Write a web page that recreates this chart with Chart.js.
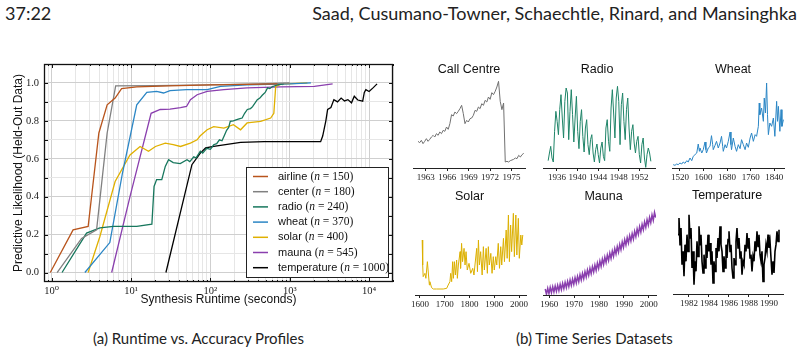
<!DOCTYPE html>
<html>
<head>
<meta charset="utf-8">
<script src="https://cdn.jsdelivr.net/npm/chart.js@4.4.1/dist/chart.umd.min.js"></script>
<style>
  body { margin: 0; background: #fff; width: 800px; height: 356px; overflow: hidden; position: relative; font-family: "Lato", sans-serif; color: #222; }
  canvas { position: absolute; }
  .hdr { position: absolute; top: 1px; font-size: 18px; line-height: 24px; white-space: nowrap; }
  .cap { position: absolute; top: 328px; font-size: 15px; line-height: 20px; white-space: nowrap; }
</style>
</head>
<body>
<div class="hdr" style="left:5px">37:22</div>
<div class="hdr" style="right:3px">Saad, Cusumano-Towner, Schaechtle, Rinard, and Mansinghka</div>
<div class="cap" style="left:93px">(a) Runtime vs. Accuracy Profiles</div>
<div class="cap" style="left:516px">(b) Time Series Datasets</div>

<canvas id="runtime" width="400" height="262" style="left:0;top:50px"></canvas>
<canvas id="callPanel"></canvas>
<canvas id="radioPanel"></canvas>
<canvas id="wheatPanel"></canvas>
<canvas id="solarPanel"></canvas>
<canvas id="maunaPanel"></canvas>
<canvas id="tempPanel"></canvas>

<script>
// ---- (a) runtime vs accuracy ----
const seriesNames = ["airline", "center", "radio", "wheat", "solar", "mauna", "temperature"];
const seriesSizes = [150, 180, 240, 370, 400, 545, 1000];
const seriesColors = ["#b8541c", "#808080", "#17775d", "#2b86c5", "#e0b000", "#8a3fae", "#000000"];

const airlineRuntime = [0.96, 1.86, 2.88, 3.93, 5.0, 6.3, 7.6, 11.8, 30, 100, 300, 700];
const airlineScore   = [0, 0.225, 0.243, 0.736, 0.885, 0.92, 0.97, 0.979, 0.985, 0.99, 0.993, 0.995];

const centerRuntime = [1.17, 2.38, 3.68, 5.0, 6.4, 20, 100, 400, 1000];
const centerScore   = [0, 0.18, 0.225, 0.736, 0.985, 0.986, 0.99, 0.995, 1.0];

const radioRuntime = [1.35, 2.75, 4.05, 6.0, 11.8, 18.3, 19.5, 21, 24.4, 27, 29.7, 34, 41.7, 50.7, 55, 61.7, 66, 74.6, 80, 90, 100, 110, 120, 130, 140, 148, 160, 170, 178, 195, 210, 230, 251, 270, 292, 320, 340, 390, 420, 450, 490, 525, 560, 600, 700, 840];
const radioScore   = [0, 0.208, 0.235, 0.243, 0.243, 0.255, 0.454, 0.49, 0.49, 0.56, 0.595, 0.58, 0.575, 0.595, 0.585, 0.61, 0.605, 0.64, 0.63, 0.655, 0.65, 0.674, 0.68, 0.70, 0.695, 0.718, 0.75, 0.765, 0.797, 0.80, 0.805, 0.81, 0.815, 0.84, 0.86, 0.865, 0.875, 0.912, 0.92, 0.935, 0.95, 0.974, 0.97, 0.98, 0.99, 0.995];

const wheatRuntime = [2.62, 5.4, 7.8, 11.8, 15.8, 21, 25.7, 31, 50, 91, 134, 290, 1000, 1850];
const wheatScore   = [0, 0.158, 0.525, 0.885, 0.95, 0.956, 0.947, 0.96, 0.965, 0.965, 0.982, 0.99, 0.995, 1.0];

const solarRuntime = [2.88, 4.05, 6.3, 9.7, 13, 16.6, 20.3, 27, 34, 42, 56, 68, 74, 91, 110, 148, 195, 240, 290, 430, 575, 630, 665, 775, 1670];
const solarScore   = [0, 0.19, 0.48, 0.62, 0.665, 0.64, 0.665, 0.683, 0.675, 0.665, 0.683, 0.70, 0.72, 0.753, 0.77, 0.762, 0.78, 0.753, 0.789, 0.797, 0.815, 0.84, 0.982, 0.994, 1.0];

const maunaRuntime = [5.7, 9.7, 17.9, 23.3, 31, 42, 50, 56, 68, 91, 148, 290, 775, 2040, 3470];
const maunaScore   = [0, 0.40, 0.84, 0.86, 0.862, 0.87, 0.876, 0.912, 0.938, 0.956, 0.965, 0.974, 0.979, 0.982, 0.995];

const temperatureRuntime = [27.5, 58.5, 74.6, 87, 110, 240, 475, 2450, 2600, 2700, 2850, 3000, 3300, 3600, 4000, 4440, 4900, 5400, 6000, 6500, 7200, 8300, 8700, 9100, 10000, 11200, 12600];
const temperatureScore   = [0, 0.569, 0.63, 0.657, 0.665, 0.687, 0.69, 0.69, 0.72, 0.753, 0.80, 0.86, 0.87, 0.912, 0.90, 0.92, 0.905, 0.912, 0.895, 0.93, 0.91, 0.904, 0.95, 0.965, 0.955, 0.974, 0.995];

const runtimes = [airlineRuntime, centerRuntime, radioRuntime, wheatRuntime, solarRuntime, maunaRuntime, temperatureRuntime];
const scores = [airlineScore, centerScore, radioScore, wheatScore, solarScore, maunaScore, temperatureScore];

const yTickValues = [0, 0.1, 0.2, 0.3, 0.4, 0.5, 0.6, 0.7, 0.8, 0.9, 1.0, 1.1];

// ---- (b) time series panels (heights above the axis) ----
const callValues = [80, 76, 83, 73, 80, 88, 80, 86, 93, 98, 93, 103, 98, 108, 103, 113, 110, 123, 116, 133, 160, 156, 168, 163, 170, 178, 188, 163, 133, 143, 138, 148, 150, 158, 173, 170, 183, 178, 193, 188, 203, 198, 213, 206, 226, 220, 230, 243, 260, 200, 175, 195, 18, 20, 18, 22, 24, 26, 30, 28, 38, 33, 40, 44];

const radioValues = [22, 45, 65, 30, 18, 110, 170, 140, 100, 175, 220, 150, 90, 200, 240, 225, 85, 170, 235, 160, 78, 150, 215, 110, 58, 140, 175, 95, 48, 120, 145, 70, 40, 85, 100, 45, 18, 55, 72, 40, 15, 60, 78, 35, 22, 120, 145, 80, 50, 180, 235, 165, 90, 210, 245, 200, 70, 190, 225, 140, 85, 175, 210, 120, 55, 110, 130, 75, 45, 80, 95, 40, 15, 70, 90, 30, 2, 40, 60, 45, 20];

const wheatYears = [1497, 1503, 1509, 1514, 1520, 1526, 1531, 1537, 1543, 1548, 1554, 1560, 1565, 1571, 1577, 1582, 1586, 1588, 1594, 1599, 1605, 1608, 1610, 1616, 1622, 1627, 1631, 1633, 1639, 1644, 1650, 1656, 1661, 1665, 1667, 1673, 1678, 1684, 1690, 1693, 1695, 1701, 1707, 1712, 1718, 1724, 1729, 1735, 1741, 1746, 1752, 1758, 1763, 1769, 1775, 1780, 1786, 1789, 1791, 1797, 1803, 1806, 1810, 1814, 1817, 1820, 1825, 1831, 1837, 1842, 1848, 1851, 1854, 1859, 1863, 1866, 1871];
const wheatValues = [10, 8, 12, 10, 15, 12, 18, 14, 22, 18, 30, 22, 35, 40, 45, 72, 50, 60, 45, 55, 78, 55, 45, 60, 65, 97, 70, 55, 68, 80, 60, 75, 95, 65, 50, 70, 60, 80, 108, 70, 55, 90, 65, 50, 70, 58, 85, 70, 55, 75, 62, 90, 105, 80, 100, 95, 125, 195, 160, 180, 140, 210, 165, 255, 160, 100, 135, 125, 150, 95, 200, 140, 185, 110, 175, 125, 145];

const solarYears = [1609, 1611, 1613, 1620, 1624, 1630, 1638, 1640, 1647, 1654, 1667, 1681, 1694, 1708, 1714, 1721, 1724, 1728, 1732, 1735, 1739, 1743, 1748, 1751, 1755, 1762, 1764, 1768, 1772, 1778, 1782, 1786, 1791, 1798, 1805, 1813, 1818, 1822, 1829, 1832, 1836, 1840, 1845, 1851, 1856, 1860, 1867, 1872, 1876, 1880, 1886, 1891, 1896, 1900, 1906, 1910, 1916, 1921, 1926, 1930, 1937, 1941, 1948, 1952, 1957, 1961, 1966, 1970, 1977, 1981, 1987, 1991, 1997, 2001, 2007, 2011, 2015];
const solarValues = [165, 90, 55, 65, 50, 100, 30, 40, 22, 18, 18, 18, 18, 20, 30, 40, 65, 40, 100, 50, 100, 60, 105, 50, 90, 130, 80, 155, 100, 140, 90, 130, 75, 95, 65, 80, 60, 90, 140, 70, 165, 90, 130, 60, 145, 75, 140, 65, 145, 90, 125, 65, 115, 75, 115, 90, 155, 80, 145, 90, 170, 100, 195, 110, 240, 100, 210, 130, 245, 115, 240, 120, 230, 110, 180, 150, 180];

const maunaValues = [18, 2, 20, 4, 23, 7, 25, 9, 27, 11, 29, 13, 32, 16, 35, 19, 38, 22, 41, 25, 45, 29, 48, 32, 52, 36, 56, 40, 61, 45, 65, 49, 70, 54, 75, 59, 80, 64, 85, 69, 90, 74, 96, 80, 102, 86, 108, 92, 114, 98, 120, 104, 126, 110, 132, 116, 139, 123, 145, 129, 152, 136, 159, 143, 166, 150, 172, 156, 178, 162, 184, 168, 191, 175, 198, 182, 205, 189, 212, 196, 219, 203, 226, 210, 233, 217, 240, 224, 248, 232];

const tempValues = [178, 228, 148, 198, 88, 128, 53, 148, 98, 178, 128, 238, 168, 198, 78, 128, 28, 98, 68, 158, 113, 203, 148, 178, 98, 63, 118, 78, 148, 108, 178, 128, 153, 88, 128, 33, 98, 68, 138, 108, 168, 128, 203, 148, 128, 68, 113, 78, 148, 108, 163, 188, 128, 148, 78, 48, 108, 88, 158, 198, 138, 168, 108, 128, 58, 98, 88, 148, 128, 183, 138, 168, 108, 118, 68, 113, 98, 158, 128, 188, 143, 178, 118, 98, 128, 38, 88, 108, 148, 128, 178, 138, 158, 108, 58, 98, 63, 128, 148, 188, 158, 193];

const callTicks = [1963, 1966, 1969, 1972, 1975];
const radioTicks = [1936, 1940, 1944, 1948, 1952];
const wheatTicks = [1520, 1600, 1680, 1760, 1840];
const solarTicks = [1600, 1700, 1800, 1900, 2000];
const maunaTicks = [1960, 1970, 1980, 1990, 2000];
const tempTicks = [1982, 1984, 1986, 1988, 1990];

// even spacing in time for the regularly sampled series
function evenYears(values, first, last) {
  return values.map((v, i) => first + i * (last - first) / (values.length - 1));
}

const SERIF = '"Liberation Serif", "DejaVu Serif", serif';
const SANS = '"Liberation Sans", Arial, sans-serif';
const SUP = ["\u2070", "\u00b9", "\u00b2", "\u00b3", "\u2074"];

function isDecade(v) {
  const e = Math.log10(v);
  return Math.abs(e - Math.round(e)) < 1e-9;
}

// frame with inward ticks, like the original axes box
const frame = {
  id: "frame",
  afterDatasetsDraw(chart) {
    const { ctx, chartArea: a, scales } = chart;
    ctx.save();
    ctx.strokeStyle = "#111";
    ctx.lineWidth = 1;
    ctx.beginPath();
    scales.x.ticks.forEach(t => {
      const px = Math.round(scales.x.getPixelForValue(t.value)) + 0.5;
      const len = isDecade(t.value) ? 4 : 2;
      ctx.moveTo(px, a.bottom); ctx.lineTo(px, a.bottom - len);
      ctx.moveTo(px, a.top); ctx.lineTo(px, a.top + len);
    });
    scales.y.ticks.forEach(t => {
      const py = Math.round(scales.y.getPixelForValue(t.value)) + 0.5;
      ctx.moveTo(a.left, py); ctx.lineTo(a.left + 4, py);
      ctx.moveTo(a.right, py); ctx.lineTo(a.right - 4, py);
    });
    ctx.stroke();
    ctx.lineWidth = 1.3;
    ctx.strokeRect(Math.round(a.left) + 0.5, Math.round(a.top) + 0.5, Math.round(a.right - a.left) - 1, Math.round(a.bottom - a.top) - 1);
    ctx.restore();
  }
};

const legendBox = {
  id: "legendBox",
  afterDatasetsDraw(chart) {
    const { ctx, chartArea: a } = chart;
    const w = 142, h = 110;
    const x0 = Math.round(a.right) - 147, y0 = Math.round(a.bottom) - 115;
    ctx.save();
    ctx.fillStyle = "#fff";
    ctx.fillRect(x0, y0, w, h);
    ctx.strokeStyle = "#222";
    ctx.lineWidth = 1;
    ctx.strokeRect(x0 + 0.5, y0 + 0.5, w, h);
    ctx.textBaseline = "middle";
    seriesNames.forEach((name, i) => {
      const y = y0 + 9.5 + i * 15.2;
      ctx.strokeStyle = seriesColors[i];
      ctx.lineWidth = 1.5;
      ctx.beginPath();
      ctx.moveTo(x0 + 7, y); ctx.lineTo(x0 + 22, y);
      ctx.stroke();
      let x = x0 + 32;
      ctx.fillStyle = "#111";
      ctx.font = "11px " + SANS;
      ctx.fillText(name + " ", x, y);
      x += ctx.measureText(name + " ").width;
      ctx.font = "11.5px " + SERIF;
      ctx.fillText("(", x, y);
      x += ctx.measureText("(").width;
      ctx.font = "italic 11.5px " + SERIF;
      ctx.fillText("n", x, y);
      x += ctx.measureText("n").width;
      ctx.font = "11.5px " + SERIF;
      ctx.fillText(" = " + seriesSizes[i] + ")", x, y);
    });
    ctx.restore();
  }
};

new Chart(document.getElementById("runtime"), {
  type: "line",
  data: {
    datasets: seriesNames.map((name, i) => ({
      label: name,
      data: runtimes[i].map((t, j) => ({ x: t, y: scores[i][j] })),
      borderColor: seriesColors[i],
      borderWidth: 1.3,
      pointRadius: 0,
      tension: 0,
      fill: false
    }))
  },
  options: {
    responsive: false,
    animation: false,
    devicePixelRatio: 1,
    layout: { padding: { top: 14, right: 7, left: 0, bottom: 0 } },
    plugins: { legend: { display: false }, tooltip: { enabled: false } },
    scales: {
      x: {
        type: "logarithmic",
        min: 0.8,
        max: 20000,
        afterBuildTicks: s => {
          const t = [];
          for (let e = -1; e <= 4; e++) {
            for (let m = 1; m < 10; m++) {
              const v = m * Math.pow(10, e);
              if (v >= 0.85 && v <= 20000) t.push({ value: v });
            }
          }
          s.ticks = t;
        },
        afterFit: s => { s.height = 30; },
        border: { display: false },
        grid: {
          drawTicks: false,
          color: c => (c.tick && isDecade(c.tick.value)) ? "#cfcfcf" : "#e6e6e6",
          lineWidth: 1
        },
        ticks: {
          autoSkip: false,
          maxRotation: 0,
          padding: 3,
          color: "#222",
          font: { family: SERIF, size: 10.5 },
          callback: v => isDecade(v) ? "10" + SUP[Math.round(Math.log10(v))] : ""
        },
        title: {
          display: true,
          text: "Synthesis Runtime (seconds)",
          color: "#111",
          font: { family: SANS, size: 12 },
          padding: { top: 0, bottom: 5 }
        }
      },
      y: {
        min: -0.05,
        max: 1.1,
        afterBuildTicks: s => { s.ticks = yTickValues.map(v => ({ value: v })); },
        afterFit: s => { s.width = 44; },
        border: { display: false },
        grid: {
          drawTicks: false,
          color: c => (c.tick && Math.round(c.tick.value * 10) % 2 === 0) ? "#cfcfcf" : "#e6e6e6",
          lineWidth: 1
        },
        ticks: {
          padding: 5,
          color: "#222",
          font: { family: SERIF, size: 10.5 },
          callback: v => (Math.round(v * 10) % 2 === 0 && v < 1.05) ? v.toFixed(1) : ""
        },
        title: {
          display: true,
          text: "Predictive Likelihood (Held-Out Data)",
          color: "#111",
          font: { family: SANS, size: 12 },
          padding: { top: 11, bottom: 0 }
        }
      }
    }
  },
  plugins: [frame, legendBox]
});

// ---- (b) small panels ----
const panelTitle = {
  id: "panelTitle",
  afterDraw(chart, args, opts) {
    const { ctx, chartArea: a } = chart;
    ctx.save();
    ctx.font = "12.5px " + SANS;
    ctx.fillStyle = "#111";
    ctx.textAlign = "center";
    ctx.textBaseline = "middle";
    ctx.fillText(opts.text, (a.left + a.right) / 2 + (opts.dx || 0), 17);
    ctx.restore();
  }
};

function panel(id, title, years, values, color, ticks, xmin, xmax, spineLeft, spineRight, spineY, lineWidth, titleDx) {
  const cv = document.getElementById(id);
  const pad = 20;
  cv.width = spineRight - spineLeft + 2 * pad;
  cv.height = 131;
  cv.style.left = (spineLeft - pad) + "px";
  cv.style.top = (spineY - 115) + "px";
  new Chart(cv, {
    type: "line",
    data: {
      datasets: [{
        data: years.map((yr, i) => ({ x: yr, y: values[i] })),
        borderColor: color,
        borderWidth: lineWidth,
        pointRadius: 0,
        tension: 0,
        fill: false
      }]
    },
    options: {
      responsive: false,
      animation: false,
      devicePixelRatio: 1,
      layout: { padding: { top: 25, left: pad, right: pad, bottom: 0 } },
      plugins: { legend: { display: false }, tooltip: { enabled: false }, panelTitle: { text: title, dx: titleDx } },
      scales: {
        x: {
          type: "linear",
          min: xmin,
          max: xmax,
          afterBuildTicks: s => { s.ticks = ticks.map(v => ({ value: v })); },
          afterFit: s => { s.height = 16; },
          border: { display: true, color: "#222", width: 1 },
          grid: { drawOnChartArea: false, drawTicks: true, tickLength: 3, color: "#222" },
          ticks: {
            autoSkip: false,
            maxRotation: 0,
            padding: 1,
            color: "#222",
            font: { family: SERIF, size: 9 },
            callback: v => String(v)
          }
        },
        y: { display: false, min: 0, max: 270 }
      }
    },
    plugins: [panelTitle]
  });
}

panel("callPanel", "Call Centre", evenYears(callValues, 1961.9, 1976.72), callValues, "#707070", callTicks, 1961.2, 1976.9, 413, 525, 168, 1, 0);
panel("radioPanel", "Radio", evenYears(radioValues, 1934.3, 1954.2), radioValues, "#1f8468", radioTicks, 1933.3, 1955.0, 543, 655, 168, 1, -2);
panel("wheatPanel", "Wheat", wheatYears, wheatValues, "#2b86c5", wheatTicks, 1493, 1873, 672, 784, 168, 1, 5);
panel("solarPanel", "Solar", solarYears, solarValues, "#dcb000", solarTicks, 1580, 2028, 415, 526, 295, 1, -1);
panel("maunaPanel", "Mauna", evenYears(maunaValues, 1958.4, 2002.8), maunaValues, "#8a3fae", maunaTicks, 1957.5, 2002.9, 543, 656, 295, 1.5, 4);
panel("tempPanel", "Temperature", evenYears(tempValues, 1980.9, 1991.0), tempValues, "#000000", tempTicks, 1980.4, 1991.4, 673, 783, 294, 1.6, -1);
</script>
</body>
</html>
